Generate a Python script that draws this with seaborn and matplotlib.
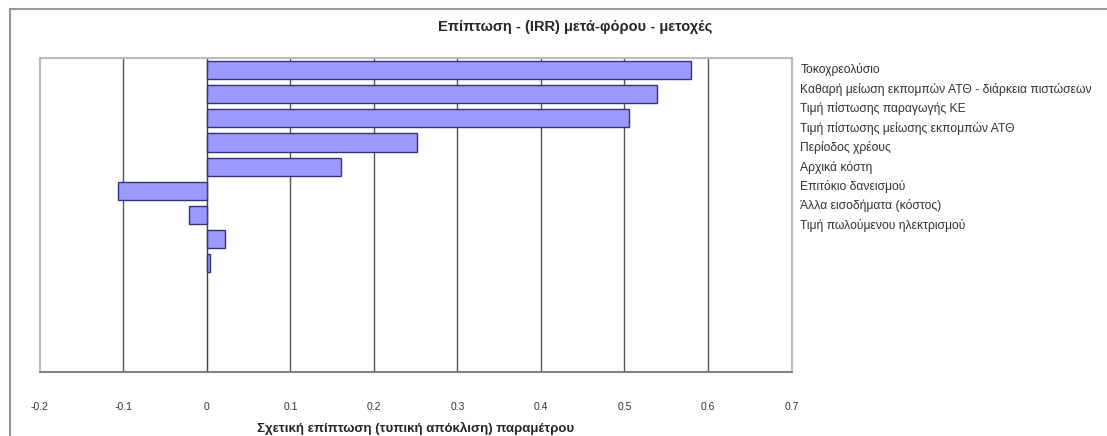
import matplotlib
matplotlib.use("Agg")
import matplotlib.pyplot as plt
import seaborn as sns
import pandas as pd
from matplotlib.patches import Rectangle

# parameters of the tornado chart (top to bottom)
params = [
    "Τοκοχρεολύσιο",
    "Καθαρή μείωση εκπομπών ΑΤΘ - διάρκεια πιστώσεων",
    "Τιμή πίστωσης παραγωγής ΚΕ",
    "Τιμή πίστωσης μείωσης εκπομπών ΑΤΘ",
    "Περίοδος χρέους",
    "Αρχικά κόστη",
    "Επιτόκιο δανεισμού",
    "Άλλα εισοδήματα (κόστος)",
    "Τιμή πωλούμενου ηλεκτρισμού",
]
impact = [0.580, 0.539, 0.505, 0.252, 0.160, -0.107, -0.022, 0.022, 0.004]
# unused slots at the bottom of the chart
empty_slots = ["_e1", "_e2", "_e3", "_e4"]
xticks = [-0.2, -0.1, 0, 0.1, 0.2, 0.3, 0.4, 0.5, 0.6, 0.7]
xtick_labels = ["-0.2", "-0.1", "0", "0.1", "0.2", "0.3", "0.4", "0.5", "0.6", "0.7"]

title = "Επίπτωση - (IRR) μετά-φόρου - μετοχές"
xlabel = "Σχετική επίπτωση (τυπική απόκλιση) παραμέτρου"

df = pd.DataFrame({"param": params, "impact": impact})

sns.set_style("white")
plt.rcParams["font.family"] = ["Liberation Sans", "DejaVu Sans"]

fig = plt.figure(figsize=(11.07, 4.36), dpi=100)
ax = fig.add_axes([0.036, 0.147, 0.679, 0.72])

order = params + empty_slots
sns.barplot(data=df, x="impact", y="param", order=order, orient="h",
            color="#9999ff", edgecolor="#333377", linewidth=1, width=0.75,
            saturation=1, ax=ax)

ax.set_xlim(-0.2, 0.7)
ax.set_ylim(len(order) - 0.5, -0.5)
ax.set_xticks(xticks)
ax.set_xticklabels(xtick_labels, fontsize=7.5, color="#333333")
ax.tick_params(axis="x", length=3, direction="out", color="#666666", pad=19)

# vertical gridlines
for v in xticks[1:-1]:
    ax.axvline(v, color="#555555", lw=1, zorder=0.5)

# category axis at zero with boundary ticks
ax.spines["left"].set_position(("data", 0))
ax.spines["left"].set_color("#444444")
ax.set_yticks([i - 0.5 for i in range(len(order) + 1)])
ax.set_yticklabels([])
ax.tick_params(axis="y", length=3, direction="inout", color="#444444")
ax.set_ylabel("")
ax.set_xlabel(xlabel, fontsize=9.5, fontweight="bold", labelpad=7)

for s in ["top", "right"]:
    ax.spines[s].set_color("#bbbbbb")
ax.spines["bottom"].set_color("#777777")
ax.spines["bottom"].set_linewidth(1.2)
ax.patch.set_edgecolor("#bbbbbb")
ax.patch.set_linewidth(1.5)

fig.text(0.52, 0.938, title, ha="center", va="center", fontsize=10.5, fontweight="bold")

# parameter names listed to the right of the plot
for i, name in enumerate(params):
    fig.text(0.723, (436 - 70 - 19.4 * i) / 436, name, ha="left", va="center",
             fontsize=8.7, color="#333333")

# outer chart border
fig.patches.append(Rectangle((0.009, -0.2), 1.5, 1.179, transform=fig.transFigure,
                             fill=False, edgecolor="#999999", lw=1.5))

fig.savefig("out.png", dpi=100)
